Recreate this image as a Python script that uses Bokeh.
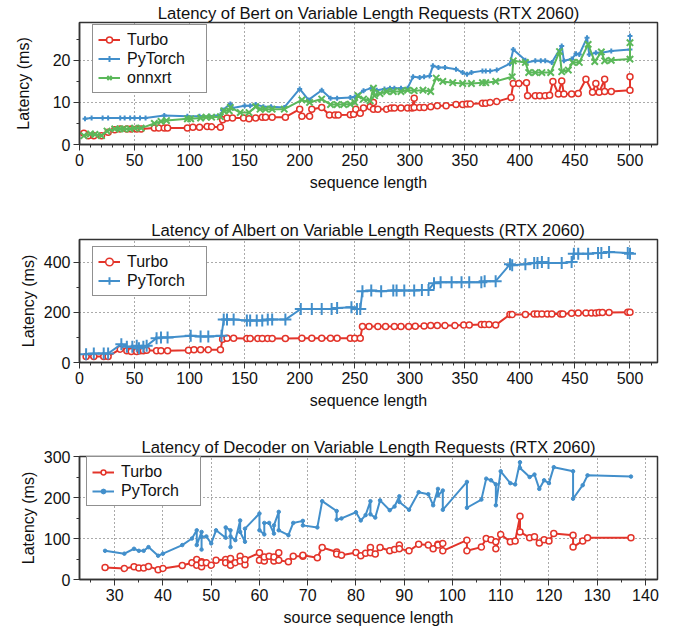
from bokeh.plotting import figure
from bokeh.layouts import column
from bokeh.models import SingleIntervalTicker, Legend, LegendItem, Range1d
from bokeh.embed import file_html
from bokeh.resources import INLINE

FONT = "Liberation Sans"
RED = "#E3342A"
BLUE = "#428FCB"
GREEN = "#5BB85A"

# ---------------- data: Bert ----------------
bert_turbo_x = [4, 8, 13, 20, 26, 32, 37, 43, 47, 52, 56, 68, 72, 77, 80, 98, 103, 109, 116, 120,
                128, 130, 134, 139, 149, 154, 160, 166, 169, 175, 187, 200, 202, 209, 211, 220, 227, 232, 235, 246,
                249, 251, 255, 258, 264, 267, 267, 271, 279, 283, 286, 292, 298, 302, 304, 304, 309, 313, 319, 325,
                333, 342, 348, 352, 355, 366, 369, 373, 379, 392, 394, 399, 406, 407, 414, 418, 423, 427, 430, 435,
                438, 440, 447, 453, 460, 466, 469, 472, 477, 477, 483, 500, 500]
bert_turbo_y = [2.7, 2.1, 2.1, 2.1, 2.9, 3.5, 3.7, 3.7, 3.7, 3.7, 3.7, 3.9, 3.9, 3.9, 3.9, 3.9, 4.1, 4.1, 4.3, 4.2,
                4.1, 5.9, 6.3, 6.3, 6.3, 6.1, 6.3, 6.5, 6.5, 6.5, 6.5, 8.4, 6.7, 6.7, 8.4, 8.8, 7.0, 7.0, 7.0, 7.1,
                7.2, 8.4, 7.4, 8.7, 9.0, 10.0, 8.4, 8.4, 8.4, 8.7, 8.7, 8.7, 8.7, 8.7, 11.0, 8.8, 8.8, 8.8, 9.0, 9.2,
                9.2, 9.5, 9.5, 9.6, 9.6, 9.8, 9.8, 10.0, 10.2, 11.2, 14.5, 14.5, 14.7, 11.6, 11.6, 11.6, 11.6, 11.7, 15.0, 12.0,
                15.1, 12.0, 12.0, 12.1, 15.5, 12.4, 14.5, 12.4, 15.5, 12.6, 12.6, 12.9, 16.1]

bert_torch_x = [5, 11, 21, 26, 37, 41, 46, 50, 55, 60, 77, 98, 109, 118, 128, 130, 137, 139, 150, 155,
                160, 167, 174, 186, 200, 208, 220, 228, 234, 246, 250, 258, 265, 270, 277, 282, 286, 292, 298, 303,
                309, 313, 318, 321, 326, 332, 342, 348, 352, 356, 366, 369, 373, 379, 391, 394, 405, 406, 414, 419,
                423, 429, 438, 440, 447, 451, 454, 461, 463, 469, 474, 483, 500, 500]
bert_torch_y = [6.1, 6.3, 6.3, 6.3, 6.3, 6.3, 6.3, 6.3, 6.3, 6.3, 6.9, 6.7, 6.7, 6.7, 7.0, 8.2, 9.6, 8.7, 9.2, 9.2,
                9.5, 9.0, 9.0, 8.8, 13.2, 10.6, 12.9, 11.0, 11.0, 11.2, 11.3, 12.8, 13.4, 12.9, 13.2, 13.4, 13.4, 13.4, 13.4, 16.1,
                15.9, 16.1, 16.3, 18.7, 18.3, 18.3, 17.9, 17.1, 16.7, 17.1, 17.5, 17.5, 17.5, 17.7, 19.2, 22.6, 20.0, 19.5, 19.9, 19.9,
                19.9, 19.5, 23.4, 19.9, 20.3, 21.6, 21.4, 25.4, 21.4, 21.8, 21.8, 22.2, 22.6, 25.8]

bert_onnx_x = [4, 10, 14, 20, 25, 32, 37, 40, 46, 50, 56, 68, 74, 79, 98, 101, 110, 115, 120, 128,
               131, 136, 137, 146, 154, 160, 164, 169, 175, 186, 202, 209, 220, 228, 234, 240, 246, 250, 253, 258,
               264, 267, 268, 273, 279, 285, 292, 298, 304, 312, 319, 324, 330, 339, 348, 356, 366, 369, 378, 393,
               394, 405, 408, 414, 420, 428, 436, 438, 444, 448, 454, 462, 468, 474, 477, 483, 500, 500]
bert_onnx_y = [2.1, 2.5, 2.4, 2.1, 3.2, 3.7, 3.7, 3.7, 3.7, 3.9, 3.9, 5.0, 5.5, 5.7, 6.1, 6.1, 6.3, 6.5, 6.5, 6.6,
               8.0, 8.0, 8.8, 7.6, 7.6, 9.0, 8.4, 8.4, 8.4, 8.4, 10.6, 10.0, 10.8, 9.5, 9.5, 9.5, 9.6, 10.0, 11.6, 10.8,
               10.4, 13.4, 11.6, 12.1, 12.6, 12.6, 12.6, 12.9, 12.8, 12.9, 12.6, 15.8, 15.0, 14.7, 14.5, 14.5, 14.7, 14.7, 15.0, 16.1,
               19.9, 19.5, 17.1, 17.1, 17.1, 17.1, 22.1, 17.3, 17.7, 19.5, 19.5, 23.8, 19.7, 22.0, 19.9, 20.0, 20.3, 24.2]

# ---------------- data: Albert ----------------
albert_turbo_x = [6, 13, 22, 26, 37, 43, 47, 52, 55, 58, 61, 70, 74, 80, 99, 104, 110, 117, 128, 130,
                  134, 140, 152, 155, 162, 166, 171, 175, 187, 202, 211, 220, 228, 234, 246, 250, 255, 257, 263, 271,
                  278, 286, 292, 299, 305, 313, 319, 325, 332, 341, 349, 354, 365, 368, 372, 378, 391, 393, 405, 413,
                  416, 420, 425, 429, 437, 439, 447, 453, 460, 465, 469, 472, 475, 481, 498, 500]
albert_turbo_y = [24, 24, 24, 24, 53, 47, 44, 44, 47, 47, 49, 47, 47, 47, 49, 51, 51, 51, 51, 93,
                  97, 97, 96, 96, 96, 96, 96, 96, 96, 97, 97, 97, 97, 97, 97, 97, 97, 143, 143, 143,
                  143, 143, 143, 143, 144, 145, 147, 147, 147, 147, 149, 149, 151, 151, 151, 149, 191, 191, 191, 193,
                  193, 193, 193, 193, 193, 193, 196, 197, 197, 197, 197, 199, 199, 199, 200, 200]

albert_torch_x = [6, 13, 22, 26, 38, 43, 48, 52, 54, 58, 61, 70, 74, 80, 101, 110, 117, 129, 131, 134,
                  140, 152, 155, 161, 166, 171, 175, 187, 201, 211, 220, 229, 234, 247, 252, 255, 257, 265, 274, 285,
                  288, 295, 304, 311, 317, 322, 328, 338, 347, 354, 365, 368, 378, 391, 393, 405, 413, 416, 420, 426,
                  438, 447, 449, 453, 462, 471, 474, 481, 498, 500]
albert_torch_y = [33, 36, 36, 36, 73, 63, 63, 67, 57, 63, 67, 97, 100, 100, 107, 104, 104, 107, 171, 171,
                  171, 167, 167, 167, 167, 171, 171, 171, 213, 213, 213, 213, 217, 220, 213, 213, 284, 287, 284, 287,
                  287, 287, 287, 289, 289, 316, 320, 320, 320, 320, 320, 324, 324, 391, 387, 391, 396, 396, 400, 396,
                  396, 400, 433, 433, 433, 436, 436, 440, 436, 433]

# ---------------- data: Decoder ----------------
dec_x = [28, 32, 34, 35, 36, 37, 39, 40, 44, 46, 47, 47, 48, 48, 48, 49, 50, 51, 53, 53,
         54, 54, 54, 55, 56, 56, 57, 57, 60, 60, 61, 61, 62, 63, 63, 64, 64, 66, 67, 69,
         69, 72, 73, 76, 76, 77, 80, 81, 82, 83, 83, 84, 85, 87, 88, 89, 89, 91, 93, 95,
         96, 97, 97, 98, 98, 103, 103, 106, 107, 108, 109, 109, 110, 112, 113, 114, 114, 116, 117, 118,
         119, 120, 121, 125, 125, 127, 128, 137]
dec_turbo = [29, 27, 31, 28, 28, 32, 24, 27, 34, 41, 49, 35, 43, 31, 41, 41, 35, 47, 49, 41,
             43, 35, 51, 41, 57, 45, 36, 49, 65, 47, 45, 55, 57, 45, 55, 65, 47, 43, 57, 57,
             59, 53, 78, 67, 62, 59, 66, 58, 64, 78, 65, 62, 78, 70, 73, 84, 75, 70, 86, 84,
             75, 86, 84, 88, 70, 96, 70, 79, 100, 97, 92, 75, 110, 92, 94, 154, 116, 102, 104, 89,
             97, 94, 112, 108, 79, 94, 102, 102]
dec_torch = [70, 63, 75, 70, 70, 79, 58, 63, 84, 100, 120, 84, 116, 73, 104, 105, 88, 120, 102, 127,
             120, 79, 105, 96, 144, 116, 92, 124, 161, 120, 110, 138, 138, 112, 132, 165, 120, 108, 138, 143,
             132, 127, 191, 167, 146, 149, 164, 144, 157, 191, 159, 151, 193, 169, 178, 203, 189, 170, 213, 208,
             181, 221, 205, 217, 170, 238, 175, 195, 246, 242, 232, 181, 264, 235, 232, 286, 272, 250, 256, 221,
             242, 235, 274, 264, 197, 230, 254, 251]

titles = ["Latency of Bert on Variable Length Requests (RTX 2060)",
          "Latency of Albert on Variable Length Requests (RTX 2060)",
          "Latency of Decoder on Variable Length Requests (RTX 2060)"]
xlabels = ["sequence length", "sequence length", "source sequence length"]
ylabel = "Latency (ms)"


def make_fig(title, height, xr, yr, bl, br, bt, bb, xint, xminor, yint, yminor, xlabel, ylab_standoff):
    p = figure(width=675, height=height, x_range=Range1d(*xr), y_range=Range1d(*yr),
               output_backend="svg", toolbar_location=None,
               min_border_left=bl, min_border_right=br, min_border_top=bt, min_border_bottom=bb)
    p.title.text = title
    p.title.text_font = FONT
    p.title.text_font_size = "16.7px"
    p.title.text_font_style = "normal"
    p.title.text_color = "#111111"
    p.title.align = "center"
    p.title.standoff = 0
    p.title.offset = 0
    p.outline_line_color = "#333333"
    p.outline_line_width = 1.5
    p.xaxis.ticker = SingleIntervalTicker(interval=xint, num_minor_ticks=xminor)
    p.yaxis.ticker = SingleIntervalTicker(interval=yint, num_minor_ticks=yminor)
    for ax in (p.xaxis[0], p.yaxis[0]):
        ax.axis_line_color = "#333333"
        ax.axis_line_width = 1.5
        ax.major_tick_line_color = "#333333"
        ax.minor_tick_line_color = "#333333"
        ax.major_tick_out = 6
        ax.major_tick_in = 0
        ax.minor_tick_out = 3
        ax.minor_tick_in = 0
        ax.major_label_text_font = FONT
        ax.major_label_text_font_size = "16px"
        ax.major_label_text_color = "#111111"
        ax.axis_label_text_font = FONT
        ax.axis_label_text_font_size = "16px"
        ax.axis_label_text_font_style = "normal"
        ax.axis_label_text_color = "#111111"
        ax.major_label_standoff = 3
    p.xaxis.axis_label = xlabel
    p.yaxis.axis_label = ylabel
    p.xaxis.axis_label_standoff = 5
    p.yaxis.axis_label_standoff = ylab_standoff
    p.grid.grid_line_color = "#555555"
    p.grid.grid_line_dash = "1 3"
    p.grid.grid_line_width = 1
    p.background_fill_color = "white"
    p.border_fill_color = "white"
    return p


def style_legend(p, items, loc, glyph_h):
    leg = Legend(items=items, location=loc)
    leg.label_text_font = FONT
    leg.label_text_font_size = "16px"
    leg.label_text_color = "#111111"
    leg.border_line_color = "#222222"
    leg.border_line_width = 1
    leg.background_fill_alpha = 1
    leg.padding = 5
    leg.spacing = 0
    leg.margin = 0
    leg.glyph_width = 22
    leg.glyph_height = glyph_h
    leg.label_height = 19
    leg.label_standoff = 7
    leg.label_width = 74
    p.add_layout(leg, "center")


# ---------- Figure 1: Bert ----------
p1 = make_fig(titles[0], 208, (0, 525), (0, 29), 74, 18, 22, 64, 50, 5, 10, 2, xlabels[0], 18)
l1 = p1.line(bert_turbo_x, bert_turbo_y, line_color=RED, line_width=2)
s1 = p1.scatter(bert_turbo_x, bert_turbo_y, marker="circle", size=6, line_color=RED,
                fill_color="white", line_width=1.5)
l2 = p1.line(bert_torch_x, bert_torch_y, line_color=BLUE, line_width=2)
s2 = p1.scatter(bert_torch_x, bert_torch_y, marker="cross", size=5, line_color=BLUE, line_width=2)
l3 = p1.line(bert_onnx_x, bert_onnx_y, line_color=GREEN, line_width=2)
s3 = p1.scatter(bert_onnx_x, bert_onnx_y, marker="x", size=9, line_color=GREEN, line_width=2)
style_legend(p1, [LegendItem(label="Turbo", renderers=[l1, s1]),
                  LegendItem(label="PyTorch", renderers=[l2, s2]),
                  LegendItem(label="onnxrt", renderers=[l3, s3])], (13, 51), 15)

# ---------- Figure 2: Albert ----------
p2 = make_fig(titles[1], 207, (0, 525), (0, 490), 79, 12, 31, 53, 50, 5, 200, 2, xlabels[1], 4)
a1 = p2.line(albert_turbo_x, albert_turbo_y, line_color=RED, line_width=2)
b1 = p2.scatter(albert_turbo_x, albert_turbo_y, marker="circle", size=6, line_color=RED,
                fill_color="white", line_width=1.5)
a2 = p2.line(albert_torch_x, albert_torch_y, line_color=BLUE, line_width=2)
b2 = p2.scatter(albert_torch_x, albert_torch_y, marker="cross", size=12, line_color=BLUE, line_width=2)
style_legend(p2, [LegendItem(label="Turbo", renderers=[a1, b1]),
                  LegendItem(label="PyTorch", renderers=[a2, b2])], (13, 66), 19)

# ---------- Figure 3: Decoder ----------
p3 = make_fig(titles[2], 213, (22.7, 142.5), (0, 300), 79, 12, 41, 49, 10, 2, 100, 2, xlabels[2], 4)
c1 = p3.line(dec_x, dec_turbo, line_color=RED, line_width=2)
d1 = p3.scatter(dec_x, dec_turbo, marker="circle", size=6, line_color=RED,
                fill_color="white", line_width=1.5)
c2 = p3.line(dec_x, dec_torch, line_color=BLUE, line_width=2)
d2 = p3.scatter(dec_x, dec_torch, marker="circle", size=3.5, line_color=BLUE, fill_color=BLUE)
style_legend(p3, [LegendItem(label="Turbo", renderers=[c1, d1]),
                  LegendItem(label="PyTorch", renderers=[c2, d2])], (7, 73), 12)

layout = column(p1, p2, p3, spacing=0)
open("out.html", "w").write(file_html(layout, INLINE))
